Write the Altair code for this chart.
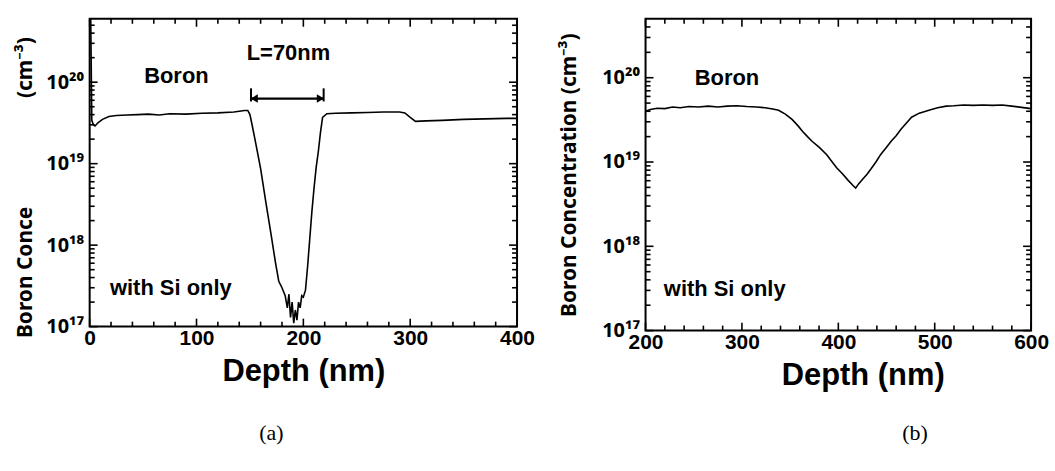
import math
import altair as alt
import pandas as pd

# ---------------- data ----------------
depth_a = [0, 1, 2, 3.5, 5, 8, 12, 18, 25, 35, 45, 55, 65, 75, 90, 105, 120, 135, 145, 148,
           150, 152, 155, 160, 165, 170, 174, 177, 180, 183, 185, 186.5, 188, 189.5, 191,
           192.5, 194, 195.5, 197, 198.5, 200, 202, 204, 206, 208, 210, 212, 214, 216, 218,
           222, 230, 245, 260, 275, 290, 295, 300, 305, 315, 330, 350, 370, 390, 400]
conc_a = [6e20, 6e20, 3.4e19, 3.0e19, 2.9e19, 3.2e19, 3.5e19, 3.8e19, 3.9e19, 3.95e19, 4.0e19,
          4.05e19, 3.95e19, 4.1e19, 4.05e19, 4.15e19, 4.2e19, 4.3e19, 4.5e19, 4.5e19,
          4.0e19, 3.0e19, 1.9e19, 8.7e18, 3.3e18, 1.3e18, 6.0e17, 3.6e17, 3.0e17, 2.4e17,
          1.7e17, 2.5e17, 1.3e17, 2.0e17, 1.1e17, 1.6e17, 1.2e17, 2.0e17, 1.7e17, 2.4e17,
          2.3e17, 2.8e17, 5.5e17, 1.2e18, 2.6e18, 5.0e18, 9.0e18, 1.4e19, 2.4e19, 3.7e19,
          4.1e19, 4.15e19, 4.2e19, 4.25e19, 4.3e19, 4.3e19, 4.2e19, 3.7e19, 3.3e19, 3.35e19,
          3.4e19, 3.5e19, 3.55e19, 3.6e19, 3.6e19]

depth_b = [200, 205, 212, 220, 228, 236, 245, 255, 265, 275, 285, 295, 305, 315, 324, 332,
           338, 345, 352, 358, 363, 368, 373, 380, 388, 398, 404, 410, 415, 418, 421, 425,
           430, 434, 439, 444, 450, 455, 460, 465, 470, 476, 484, 494, 503, 512, 520, 530,
           540, 550, 560, 570, 580, 590, 600]
conc_b = [4.0e19, 4.2e19, 4.35e19, 4.3e19, 4.5e19, 4.4e19, 4.55e19, 4.5e19, 4.6e19, 4.5e19,
          4.6e19, 4.65e19, 4.55e19, 4.5e19, 4.4e19, 4.25e19, 4.1e19, 3.7e19, 3.2e19, 2.7e19,
          2.3e19, 2.0e19, 1.75e19, 1.5e19, 1.22e19, 8.6e18, 7.3e18, 6.1e18, 5.3e18, 4.9e18,
          5.5e18, 6.2e18, 7.2e18, 8.3e18, 1.0e19, 1.23e19, 1.5e19, 1.78e19, 2.05e19, 2.45e19,
          2.85e19, 3.4e19, 3.8e19, 4.1e19, 4.4e19, 4.6e19, 4.65e19, 4.75e19, 4.7e19, 4.75e19,
          4.7e19, 4.75e19, 4.6e19, 4.45e19, 4.3e19]

x_major_a = [0, 100, 200, 300, 400]
x_minor_a = [20, 40, 60, 80, 120, 140, 160, 180, 220, 240, 260, 280, 320, 340, 360, 380]
x_major_b = [200, 300, 400, 500, 600]
x_minor_b = [220, 240, 260, 280, 320, 340, 360, 380, 420, 440, 460, 480, 520, 540, 560, 580]
y_major = [1e17, 1e18, 1e19, 1e20]
y_minor = [2e17, 3e17, 4e17, 5e17, 6e17, 7e17, 8e17, 9e17,
           2e18, 3e18, 4e18, 5e18, 6e18, 7e18, 8e18, 9e18,
           2e19, 3e19, 4e19, 5e19, 6e19, 7e19, 8e19, 9e19,
           2e20, 3e20, 4e20, 5e20]

labels_a = ["Boron", "L=70nm", "with Si only"]
label_x_a = [51, 147, 19]
label_y_a = [1.2e20, 2.3e20, 3.0e17]
labels_b = ["Boron", "with Si only"]
label_x_b = [251, 219]
label_y_b = [1.0e20, 3.1e17]

arrow_x = [151, 219]
arrow_y = 6.3e19
bar_lo, bar_hi = 5.8e19, 8.4e19

FONT = "Liberation Sans"
SUPFONT = "Noto Sans"
LABEL_EXPR = ("datum.value > 5e19 ? '10\u00b2\u2070' : datum.value > 5e18 ? '10\u00b9\u2079' : "
              "datum.value > 5e17 ? '10\u00b9\u2078' : '10\u00b9\u2077'")
MAJ_LEN, MIN_LEN = 8, 5   # inward tick lengths in pixels


def tick_rules(xs, ys, W, H, xdom, ydom, xmaj, xmin, tag):
    """Inward ticks on all four edges, drawn as rules through the panel's own scales."""
    decades = math.log10(ydom[1] / ydom[0])
    xspan = xdom[1] - xdom[0]
    xp, y0, y1 = [], [], []
    for vals, ln in ((xmaj, MAJ_LEN), (xmin, MIN_LEN)):
        f = 10 ** (ln * decades / H)
        for v in vals:
            xp += [v, v]
            y0 += [ydom[0], ydom[1] / f]
            y1 += [ydom[0] * f, ydom[1]]
    yp, x0, x1 = [], [], []
    ymin_vals = [v for v in y_minor if v < ydom[1]]
    for vals, ln in ((y_major, MAJ_LEN), (ymin_vals, MIN_LEN)):
        d = ln * xspan / W
        for v in vals:
            yp += [v, v]
            x0 += [xdom[0], xdom[1] - d]
            x1 += [xdom[0] + d, xdom[1]]
    fx = {"p": f"kx_{tag}", "a": f"ka_{tag}", "b": f"kb_{tag}"}
    fy = {"p": f"ky_{tag}", "a": f"kc_{tag}", "b": f"kd_{tag}"}
    xdf = pd.DataFrame({fx["p"]: xp, fx["a"]: y0, fx["b"]: y1})
    ydf = pd.DataFrame({fy["p"]: yp, fy["a"]: x0, fy["b"]: x1})
    xt = alt.Chart(xdf).mark_rule(color="black", strokeWidth=1.6).encode(
        x=alt.X(f"{fx['p']}:Q", scale=xs, axis=None),
        y=alt.Y(f"{fx['a']}:Q", scale=ys, axis=None), y2=f"{fx['b']}:Q")
    yt = alt.Chart(ydf).mark_rule(color="black", strokeWidth=1.6).encode(
        y=alt.Y(f"{fy['p']}:Q", scale=ys, axis=None),
        x=alt.X(f"{fy['a']}:Q", scale=xs, axis=None), x2=f"{fy['b']}:Q")
    return [xt, yt]


def panel(depth, conc, xdom, ydom, W, H, xmaj, xmin, ytitle, ytitle_y, ytitle_pad, texts,
          tx, ty, bottom, bottom_dx, bottom_offset, tag, extra=None, xtitle_x=None):
    xs = alt.Scale(domain=xdom, nice=False, zero=False)
    ys = alt.Scale(type="log", domain=ydom, nice=False)
    xaxis_kw = dict(orient="bottom", values=xmaj, title="Depth (nm)", ticks=False,
                    domain=False, grid=False, labelPadding=1, titlePadding=8, format="d",
                    labelFlush=False)
    if xtitle_x is not None:
        xaxis_kw["titleX"] = xtitle_x
    yaxis_kw = dict(orient="left", values=y_major, labelExpr=LABEL_EXPR, ticks=False,
                    domain=False, grid=False, title=ytitle, labelPadding=6,
                    titlePadding=ytitle_pad, labelFont=SUPFONT, labelFontSize=20,
                    titleFont=SUPFONT, titleFontSize=21)
    if ytitle_y is not None:
        yaxis_kw["titleY"] = ytitle_y
    df = pd.DataFrame({"depth": depth, "conc": conc})
    line = alt.Chart(df).mark_line(color="black", strokeWidth=1.6).encode(
        x=alt.X("depth:Q", scale=xs, axis=alt.Axis(**xaxis_kw)),
        y=alt.Y("conc:Q", scale=ys, axis=alt.Axis(**yaxis_kw)),
    )
    layers = [line]
    tdf = pd.DataFrame({"label": texts, "tx": tx, "ty": ty})
    layers.append(alt.Chart(tdf).mark_text(align="left", baseline="middle", font=FONT,
                                           fontSize=22, fontWeight="bold", color="black").encode(
        x=alt.X("tx:Q", scale=xs, axis=None), y=alt.Y("ty:Q", scale=ys, axis=None),
        text="label:N"))
    if extra:
        layers.extend(extra(xs, ys))
    layers.extend(tick_rules(xs, ys, W, H, xdom, ydom, xmaj, xmin, tag))
    return alt.layer(*layers).resolve_axis(x="independent", y="independent").properties(
        width=W, height=H,
        title=alt.TitleParams(bottom, orient="bottom", font="Liberation Serif", fontSize=22,
                              fontWeight="normal", offset=bottom_offset, color="black",
                              dx=bottom_dx))


def arrow_layers(xs, ys):
    adf = pd.DataFrame({"ax": [arrow_x[0]], "ax2": [arrow_x[1]], "ay": [arrow_y]})
    shaft = alt.Chart(adf).mark_rule(color="black", strokeWidth=2.2).encode(
        x=alt.X("ax:Q", scale=xs, axis=None), x2="ax2:Q", y=alt.Y("ay:Q", scale=ys, axis=None))
    bdf = pd.DataFrame({"bx": arrow_x, "lo": [bar_lo, bar_lo], "hi": [bar_hi, bar_hi]})
    bars = alt.Chart(bdf).mark_rule(color="black", strokeWidth=2).encode(
        x=alt.X("bx:Q", scale=xs, axis=None), y=alt.Y("lo:Q", scale=ys, axis=None), y2="hi:Q")
    hdf = pd.DataFrame({"hx": [arrow_x[0] + 3, arrow_x[1] - 3], "hy": [arrow_y, arrow_y],
                        "s": ["triangle-left", "triangle-right"]})
    heads = alt.Chart(hdf).mark_point(filled=True, color="black", size=70, opacity=1).encode(
        x=alt.X("hx:Q", scale=xs, axis=None), y=alt.Y("hy:Q", scale=ys, axis=None),
        shape=alt.Shape("s:N", scale=None, legend=None))
    return [shaft, bars, heads]


NB = "\u00a0"
title_a = "Boron Conce" + NB * 20 + "(cm\u207b\u00b3)"
title_b = "Boron Concentration (cm\u207b\u00b3)"

pa = panel(depth_a, conc_a, [0, 400], [1e17, 6e20], 429, 309, x_major_a, x_minor_a,
           title_a, 169, 10, labels_a, label_x_a, label_y_a, "(a)", -32, 37, "a",
           extra=arrow_layers)
pb = panel(depth_b, conc_b, [200, 600], [1e17, 5e20], 387, 313, x_major_b, x_minor_b,
           title_b, None, 22, labels_b, label_x_b, label_y_b, "(b)", 77, 33, "b",
           xtitle_x=218)

chart = alt.hconcat(pa, pb, spacing=21).properties(
    padding={"left": 13, "top": 13, "right": 5, "bottom": 5},
    background="white",
).configure_view(stroke="black", strokeWidth=2).configure_axis(
    labelFont=FONT, labelFontSize=21, labelFontWeight="bold", labelColor="black",
    titleFont=FONT, titleColor="black", titleFontWeight="bold",
).configure_axisX(titleFontSize=31).configure_axisY(titleFontSize=21)

chart.save("out.html", embed_options={"renderer": "svg", "actions": False})
